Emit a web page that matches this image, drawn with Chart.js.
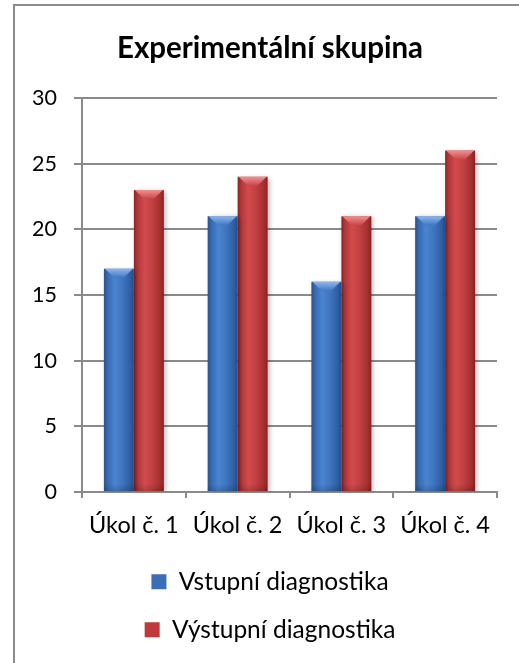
<!DOCTYPE html>
<html>
<head>
<meta charset="utf-8">
<script src="https://cdn.jsdelivr.net/npm/chart.js@4.4.1/dist/chart.umd.min.js"></script>
<style>
  html, body { margin: 0; padding: 0; background: #ffffff; }
  canvas { display: block; }
</style>
</head>
<body>
<canvas id="c" width="519" height="663"></canvas>
<script>
// ---- data ----
const chartTitle = 'Experimentální skupina';
const categories = ['Úkol č. 1', 'Úkol č. 2', 'Úkol č. 3', 'Úkol č. 4'];
const seriesNames = ['Vstupní diagnostika', 'Výstupní diagnostika'];
const vstupniValues = [17, 21, 16, 21];
const vystupniValues = [23, 24, 21, 26];
const yTickMin = 0;
const yTickMax = 30;
const yTickStep = 5;

// ---- styling ----
const FAMILY = 'Lato, "Open Sans", "DejaVu Sans", sans-serif';
const mctx = document.createElement('canvas').getContext('2d');
function fitSize(text, weight, target) {
  mctx.font = weight + ' 100px ' + FAMILY;
  return Math.round(100 * target / mctx.measureText(text).width * 2) / 2;
}
const tickSize = fitSize('30', 'normal', 25);
const catSize = fitSize(categories[0], 'normal', 90);
const legSize = fitSize(seriesNames[0], 'normal', 210);
const titleSize = fitSize(chartTitle, 'bold', 308);

const H = 663;
const padL = 43, padR = 22, padT = 20, padB = 11;
const areaTop = 98, areaBottom = 492, areaLeft = 82;
const titleLH = titleSize * 1.2;
const titlePadTop = 48 - padT - titleLH / 2;
const titlePadBottom = areaTop - padT - titlePadTop - titleLH;
const legBox = 15;
const legItemH = Math.max(legSize, legBox);
const legPadding = 48 - legItemH;
const legendH = 2 * (legItemH + legPadding) + 10;
const xAxisH = H - padB - legendH - areaBottom;
const xTickPad = 525 - areaBottom - 6 - catSize * 0.6;

const gridColor = '#8a8a8a';
const palettes = [
  {
    base: '#3a6fb8',
    stops: [[0, '#28528e'], [0.12, '#3769b0'], [0.36, '#4a84cf'], [0.62, '#3e75bf'], [0.88, '#2f5ea2'], [1, '#244c86']],
    topLight: '#8fb6ec', topDark: '#3f77c2'
  },
  {
    base: '#c0393b',
    stops: [[0, '#8c2325'], [0.12, '#b2373a'], [0.36, '#d24b4d'], [0.62, '#c13f41'], [0.88, '#a3302f'], [1, '#862123']],
    topLight: '#f29090', topDark: '#c94547'
  }
];

const framePlugin = {
  id: 'frame',
  beforeDraw(chart) {
    const ctx = chart.ctx;
    ctx.save();
    ctx.fillStyle = '#ffffff';
    ctx.fillRect(0, 0, chart.width, chart.height);
    ctx.strokeStyle = '#8c8c8c';
    ctx.lineWidth = 2;
    ctx.beginPath();
    ctx.moveTo(14, chart.height);
    ctx.lineTo(14, 5);
    ctx.lineTo(chart.width, 5);
    ctx.stroke();
    ctx.restore();
  }
};

const barStylePlugin = {
  id: 'barStyle',
  beforeDatasetDraw(chart, args) {
    const ctx = chart.ctx;
    const pal = palettes[args.index];
    args.meta.data.forEach(el => {
      const p = el.getProps(['x', 'width'], true);
      const l = p.x - p.width / 2, r = p.x + p.width / 2;
      const g = ctx.createLinearGradient(l, 0, r, 0);
      pal.stops.forEach(s => g.addColorStop(s[0], s[1]));
      el.options.backgroundColor = g;
    });
    ctx.save();
    ctx.shadowColor = 'rgba(0,0,0,0.28)';
    ctx.shadowBlur = 5;
    ctx.shadowOffsetX = 2;
    ctx.shadowOffsetY = 1;
  },
  afterDatasetDraw(chart, args) {
    const ctx = chart.ctx;
    ctx.restore();
    const pal = palettes[args.index];
    ctx.save();
    args.meta.data.forEach(el => {
      const p = el.getProps(['x', 'y', 'base', 'width'], true);
      const l = p.x - p.width / 2, r = p.x + p.width / 2;
      const b = Math.min(9, (p.base - p.y) / 2);
      const g = ctx.createLinearGradient(0, p.y, 0, p.y + b);
      g.addColorStop(0, pal.topLight);
      g.addColorStop(1, pal.topDark);
      ctx.fillStyle = g;
      ctx.beginPath();
      ctx.moveTo(l + 1, p.y);
      ctx.lineTo(r - 1, p.y);
      ctx.lineTo(p.x + p.width * 0.16, p.y + b);
      ctx.lineTo(p.x - p.width * 0.16, p.y + b);
      ctx.closePath();
      ctx.fill();
      const g2 = ctx.createLinearGradient(0, p.base - 7, 0, p.base);
      g2.addColorStop(0, 'rgba(0,0,0,0)');
      g2.addColorStop(1, 'rgba(0,0,0,0.16)');
      ctx.fillStyle = g2;
      ctx.fillRect(l, p.base - 7, p.width, 7);
    });
    ctx.restore();
  }
};

Chart.defaults.font.family = FAMILY;
Chart.defaults.color = '#000000';

new Chart(document.getElementById('c'), {
  type: 'bar',
  data: {
    labels: categories,
    datasets: [
      {
        label: seriesNames[0],
        data: vstupniValues,
        backgroundColor: () => palettes[0].base,
        borderWidth: 0,
        categoryPercentage: 0.578,
        barPercentage: 1.0
      },
      {
        label: seriesNames[1],
        data: vystupniValues,
        backgroundColor: () => palettes[1].base,
        borderWidth: 0,
        categoryPercentage: 0.578,
        barPercentage: 1.0
      }
    ]
  },
  options: {
    responsive: false,
    devicePixelRatio: 1,
    animation: false,
    events: [],
    layout: { padding: { left: padL, right: padR, top: padT, bottom: padB } },
    plugins: {
      title: {
        display: true,
        text: chartTitle,
        color: '#000000',
        font: { size: titleSize, weight: 'bold', lineHeight: 1.2 },
        padding: { top: titlePadTop, bottom: titlePadBottom }
      },
      legend: {
        display: true,
        position: 'bottom',
        labels: {
          boxWidth: legBox,
          boxHeight: legBox,
          padding: legPadding,
          color: '#000000',
          font: { size: legSize }
        }
      },
      tooltip: { enabled: false }
    },
    scales: {
      x: {
        grid: {
          display: true,
          offset: true,
          drawOnChartArea: false,
          drawTicks: true,
          tickLength: 6,
          color: gridColor,
          lineWidth: 2
        },
        border: { display: true, color: gridColor, width: 2 },
        ticks: {
          color: '#000000',
          font: { size: catSize, lineHeight: 1.2 },
          padding: xTickPad,
          maxRotation: 0
        },
        afterFit(scale) { scale.height = xAxisH; }
      },
      y: {
        min: yTickMin,
        max: yTickMax,
        ticks: {
          stepSize: yTickStep,
          color: '#000000',
          font: { size: tickSize },
          padding: 17
        },
        grid: {
          color: gridColor,
          lineWidth: 2,
          tickLength: 8,
          drawTicks: true
        },
        border: { display: true, color: gridColor, width: 2 },
        afterFit(scale) {
          scale.width = areaLeft - padL;
          // let the tick labels extend left of the narrowed axis box
          scale._computeLabelArea = () => undefined;
        }
      }
    }
  },
  plugins: [framePlugin, barStylePlugin]
});
</script>
</body>
</html>
